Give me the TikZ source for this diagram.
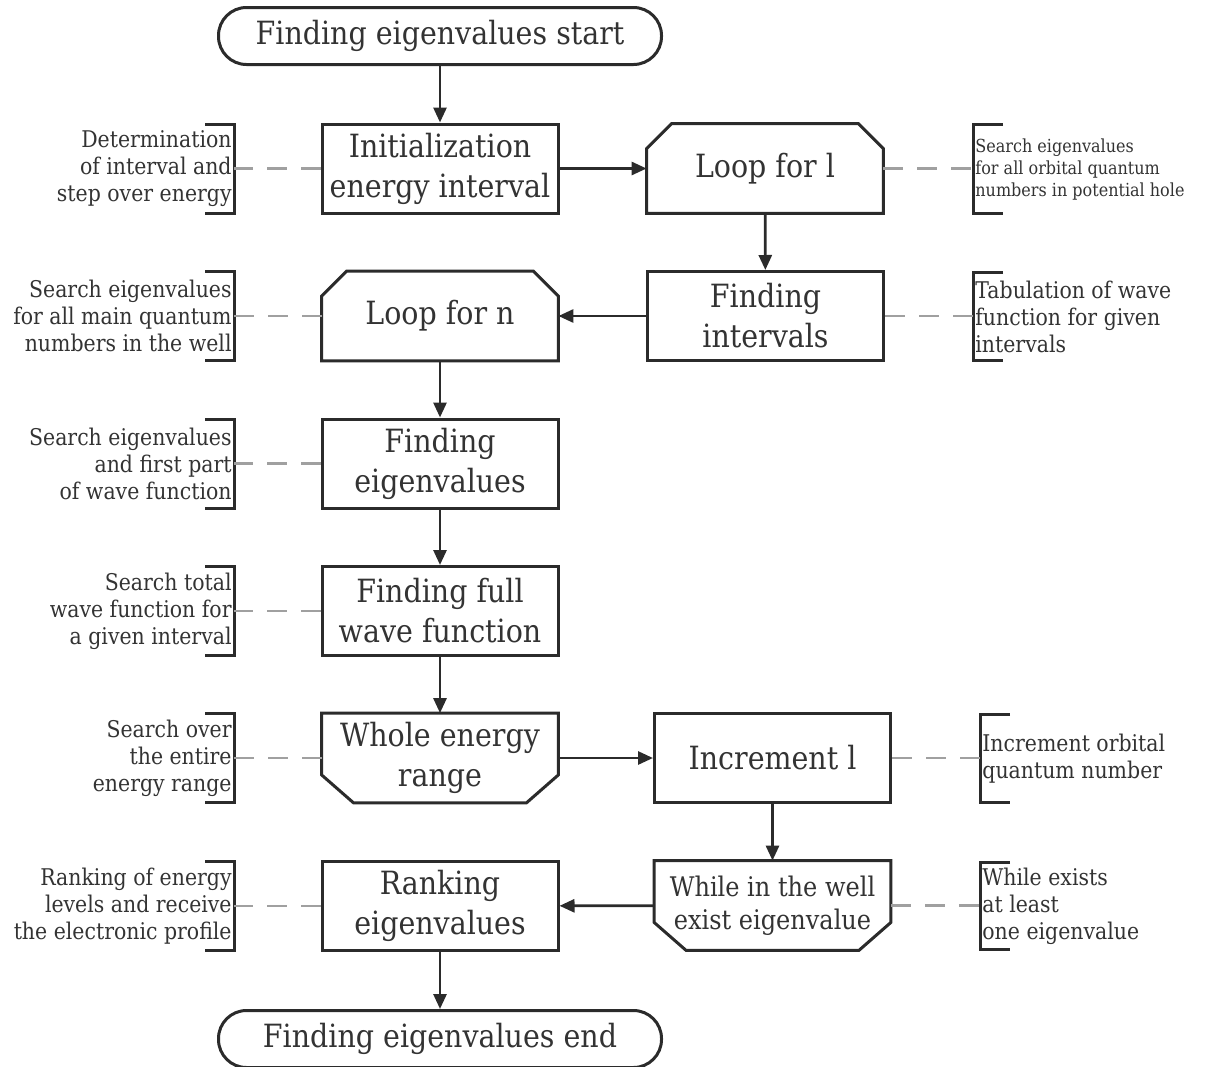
\documentclass[tikz,border=0pt]{standalone}
\usepackage{fontspec}
\setmainfont{DejaVu Serif}[FakeStretch=0.89]
\usetikzlibrary{arrows.meta,shapes.misc}
\definecolor{linec}{HTML}{2B2B2B}
\definecolor{textc}{HTML}{333333}
\definecolor{dashc}{HTML}{A0A0A0}
\tikzset{
  mainfont/.style={font=\fontsize{16}{20}\selectfont},
  procbox/.style={draw=linec, line width=1.5pt, fill=white, text=textc, mainfont, align=center,
     minimum width=118pt, minimum height=44.5pt, inner sep=2pt},
  plainbox/.style={draw=none, text=textc, mainfont, align=center,
     minimum width=118pt, minimum height=44.5pt, inner sep=2pt},
  termbox/.style={draw=linec, line width=1.5pt, text=textc, mainfont, rounded corners=14pt,
     minimum width=221.5pt, minimum height=28.5pt, inner sep=2pt},
  shapeline/.style={draw=linec, line width=1.5pt, line join=miter},
  arr/.style={draw=linec, line width=1.4pt, -{Triangle[length=7.5pt,width=6.5pt]}},
  dashline/.style={draw=dashc, line width=1.25pt, dash pattern=on 10pt off 7pt},
  bracketline/.style={draw=linec, line width=1.5pt},
  leftnote/.style={anchor=east, align=right, text=textc, inner sep=0pt,
     font=\fontsize{11.5}{13.5}\selectfont},
  rightnote/.style={anchor=west, align=left, text=textc, inner sep=0pt,
     font=\fontsize{11.5}{13.5}\selectfont},
  smallnote/.style={anchor=west, align=left, text=textc, inner sep=0pt,
     font=\fontsize{9}{11}\selectfont},
}
\begin{document}
\begin{tikzpicture}[x=0.5pt,y=-0.5pt]
\useasboundingbox (0,0) rectangle (1205,1066);

% terminals
\node[termbox] (start) at (440,36) {Finding eigenvalues start};
\node[termbox] (finish) at (440,1039) {Finding eigenvalues end};

% boxes
\node[procbox] (init) at (440,168.5) {Initialization\\energy interval};
\node[plainbox] (loopl) at (765,168.5) {Loop for l};
\draw[shapeline] ([xshift=12.5pt]loopl.north west) -- ([xshift=-12.5pt]loopl.north east)
   -- ([yshift=-12.5pt]loopl.north east) -- (loopl.south east) -- (loopl.south west)
   -- ([yshift=-12.5pt]loopl.north west) -- cycle;
\node[procbox] (fint) at (765.5,316) {Finding\\intervals};
\node[plainbox] (loopn) at (440,316) {Loop for n};
\draw[shapeline] ([xshift=12.5pt]loopn.north west) -- ([xshift=-12.5pt]loopn.north east)
   -- ([yshift=-12.5pt]loopn.north east) -- (loopn.south east) -- (loopn.south west)
   -- ([yshift=-12.5pt]loopn.north west) -- cycle;
\node[procbox] (feig) at (440,463.5) {Finding\\eigenvalues};
\node[procbox] (ffull) at (440,611) {Finding full\\wave function};
\node[plainbox] (whole) at (440,758) {Whole energy\\range};
\draw[shapeline] (whole.north west) -- (whole.north east)
   -- ([yshift=14pt]whole.south east) -- ([xshift=-16pt]whole.south east)
   -- ([xshift=16pt]whole.south west) -- ([yshift=14pt]whole.south west) -- cycle;
\node[procbox] (incl) at (772.5,758) {Increment l};
\node[plainbox, font=\fontsize{13.5}{16.5}\selectfont] (while) at (772.5,905.5) {While in the well\\exist eigenvalue};
\draw[shapeline] (while.north west) -- (while.north east)
   -- ([yshift=14pt]while.south east) -- ([xshift=-16pt]while.south east)
   -- ([xshift=16pt]while.south west) -- ([yshift=14pt]while.south west) -- cycle;
\node[procbox] (rank) at (440,906) {Ranking\\eigenvalues};

% arrows
\draw[arr] (start) -- (init);
\draw[arr] (init) -- (loopl);
\draw[arr] (loopl) -- (fint);
\draw[arr] (fint) -- (loopn);
\draw[arr] (loopn) -- (feig);
\draw[arr] (feig) -- (ffull);
\draw[arr] (ffull) -- (whole);
\draw[arr] (whole) -- (incl);
\draw[arr] (incl) -- (while);
\draw[arr] (while) -- (rank);
\draw[arr] (rank) -- (finish);

% left annotations
\foreach \n/\y/\t in {init/168.5/{Determination\\of interval and\\step over energy},
                      loopn/316/{Search eigenvalues\\for all main quantum\\numbers in the well},
                      feig/463.5/{Search eigenvalues\\and first part\\of wave function},
                      ffull/611/{Search total\\wave function for\\a given interval},
                      whole/758/{Search over\\the entire\\energy range},
                      rank/906/{Ranking of energy\\levels and receive\\the electronic profile}}{
  \coordinate (L\n) at (234,\y);
  \draw[bracketline] (205,\y-44.5) -- (234,\y-44.5) -- (234,\y+44.5) -- (205,\y+44.5);
  \node[leftnote] (LT\n) at (232,\y) {\t};
  \draw[dashline] (\n.west) -- (L\n);
}

% right annotations
\coordinate (Rloopl) at (973,168.5);
\draw[bracketline] (1003,124) -- (973,124) -- (973,213) -- (1003,213);
\node[smallnote] (RTloopl) at (975,170) {Search eigenvalues\\for all orbital quantum\\numbers in potential hole};
\draw[dashline] (loopl.east) -- (Rloopl);

\coordinate (Rfint) at (973,316);
\draw[bracketline] (1003,272) -- (973,272) -- (973,360) -- (1003,360);
\node[rightnote] (RTfint) at (975,317) {Tabulation of wave\\function for given\\intervals};
\draw[dashline] (fint.east) -- (Rfint);

\coordinate (Rincl) at (980,758);
\draw[bracketline] (1010,714) -- (980,714) -- (980,802) -- (1010,802);
\node[rightnote] (RTincl) at (982,759) {Increment orbital\\quantum number};
\draw[dashline] (incl.east) -- (Rincl);

\coordinate (Rwhile) at (980,905.5);
\draw[bracketline] (1010,862) -- (980,862) -- (980,949) -- (1010,949);
\node[rightnote] (RTwhile) at (982,906) {While exists\\at least\\one eigenvalue};
\draw[dashline] (while.east) -- (Rwhile);
\end{tikzpicture}
\end{document}
